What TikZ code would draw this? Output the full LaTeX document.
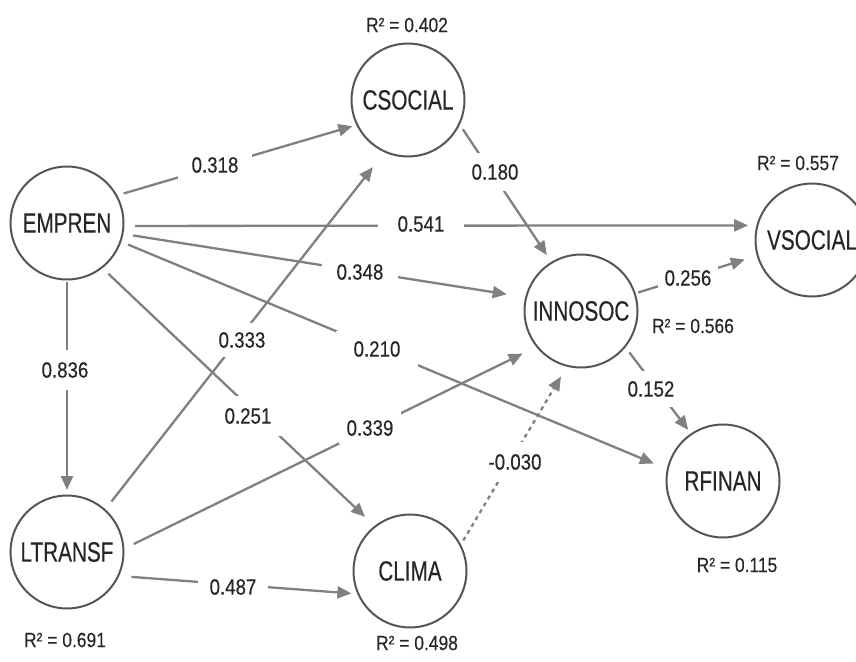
\documentclass[tikz,border=0pt]{standalone}
\usepackage{fontspec}
\usetikzlibrary{arrows.meta}
\newfontfamily\nodefont[FakeStretch=0.74,FakeBold=0.3]{Liberation Sans}
\newfontfamily\numfont[FakeStretch=0.85,FakeBold=0.3]{Liberation Sans}
\definecolor{circ}{HTML}{555555}
\definecolor{edgec}{HTML}{808080}
\definecolor{txt}{HTML}{262626}
\tikzset{
  var/.style={circle, draw=circ, line width=2pt, minimum size=113pt, inner sep=0pt, outer sep=0pt,
    font=\nodefont\fontsize{28pt}{28pt}\selectfont, text=txt},
  link/.style={draw=edgec, line width=2.3pt, -{Triangle[length=14pt,width=12pt]}},
  wlabel/.style={fill=white, inner xsep=12pt, inner ysep=9pt,
    font=\numfont\fontsize{22pt}{22pt}\selectfont, text=txt},
  rsq/.style={inner sep=0pt, font=\numfont\fontsize{20.5pt}{20.5pt}\selectfont, text=txt}
}
\begin{document}
\begin{tikzpicture}[x=1pt,y=-1pt]
\useasboundingbox (0,0) rectangle (856,661);
% variables
\node[var] (emp) at (67,223) {EMPREN};
\node[var] (cso) at (408,100) {CSOCIAL};
\node[var] (vso) at (812,240) {VSOCIAL};
\node[var] (inn) at (581,311) {INNOSOC};
\node[var] (rfi) at (723,481) {RFINAN};
\node[var] (ltr) at (67,552) {LTRANSF};
\node[var] (cli) at (410,571) {CLIMA};
% R squared
\node[rsq] (rcso) at (407,25) {R² = 0.402};
\node[rsq] (rvso) at (798,163) {R² = 0.557};
\node[rsq] (rinn) at (693,326) {R² = 0.566};
\node[rsq] (rrfi) at (737,565) {R² = 0.115};
\node[rsq] (rltr) at (65,640) {R² = 0.691};
\node[rsq] (rcli) at (417,643) {R² = 0.498};
% paths
\draw[link, shorten <=7.5pt, shorten >=5pt] (emp.29) -- (cso.206);
\draw[link, shorten <=11.6pt, shorten >=9.3pt] (emp.-3) -- (vso.165.7);
\draw[link, shorten <=10.8pt, shorten >=19.7pt] (emp.-11.1) -- (inn.166.3);
\draw[link, shorten <=8.3pt, shorten >=15pt] (emp.-19.8) -- (rfi.168.7);
\draw[link, shorten <=9pt, shorten >=14pt] (emp.-52.4) -- (cli.128.7);
\draw[link, shorten <=2pt, shorten >=5.5pt] (emp.-90) -- (ltr.90);
\draw[link, shorten <=10.8pt, shorten >=19.7pt] (ltr.48) -- (cso.246.8);
\draw[link, shorten <=11.6pt, shorten >=16pt] (ltr.3.4) -- (inn.219.4);
\draw[link, shorten <=13.3pt, shorten >=7pt] (ltr.-25.5) -- (cli.204.1);
\draw[link, shorten <=6.5pt, shorten >=9pt] (cso.-25.3) -- (inn.121.3);
\draw[link, shorten <=3.6pt, shorten >=13.5pt] (inn.18.4) -- (vso.196.6);
\draw[link, shorten <=7.4pt, shorten >=5.4pt] (inn.-39.9) -- (rfi.124.5);
\draw[link, dash pattern=on 4pt off 4pt, shorten <=5.7pt, shorten >=12.4pt] (cli.27.8) -- (inn.256.6);
% coefficients
\node[wlabel, inner xsep=14pt, inner ysep=8pt] (l318) at (215,165) {0.318};
\node[wlabel, inner xsep=20pt] (l541) at (421,224) {0.541};
\node[wlabel, inner xsep=15pt] (l348) at (360,272) {0.348};
\node[wlabel, inner xsep=18pt, inner ysep=10pt] (l210) at (377,349) {0.210};
\node[wlabel, inner xsep=10pt, inner ysep=12pt] (l251) at (248,416) {0.251};
\node[wlabel, inner ysep=12pt] (l836) at (65,370) {0.836};
\node[wlabel, inner ysep=9pt] (l333) at (242,340) {0.333};
\node[wlabel, inner xsep=8pt, inner ysep=8pt] (l339) at (370,428) {0.339};
\node[wlabel, inner xsep=12pt] (l487) at (233,587) {0.487};
\node[wlabel, inner ysep=11pt] (l180) at (495,172) {0.180};
\node[wlabel, inner xsep=7pt] (l256) at (688,278) {0.256};
\node[wlabel, inner ysep=10pt] (l152) at (651,389) {0.152};
\node[wlabel, inner ysep=12pt] (l030) at (515,462) {-0.030};
\end{tikzpicture}
\end{document}
